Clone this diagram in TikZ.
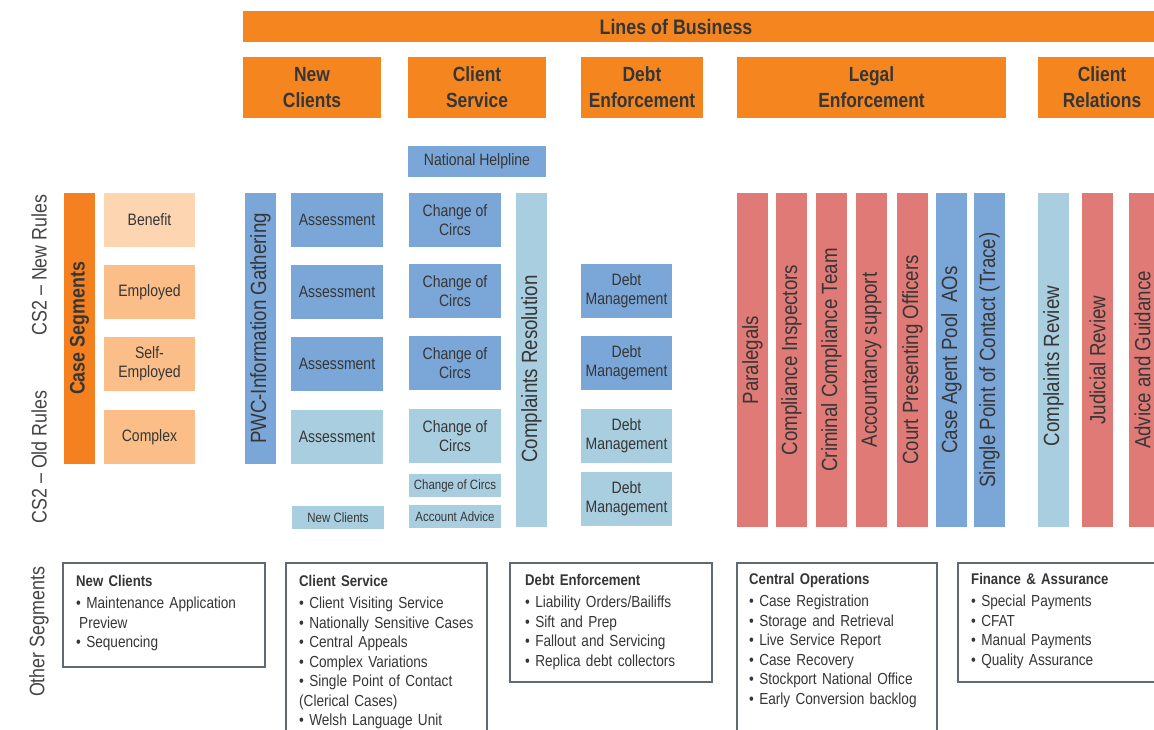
\documentclass[tikz,border=0pt]{standalone}
\usepackage{fontspec}
\setmainfont{Liberation Sans}[FakeStretch=0.85]
\definecolor{orng}{HTML}{F5861F}
\definecolor{csorng}{HTML}{F4801F}
\definecolor{peachA}{HTML}{FDD6B1}
\definecolor{peachB}{HTML}{FBBE88}
\definecolor{blu}{HTML}{7BA6D8}
\definecolor{lblu}{HTML}{A9CEDF}
\definecolor{redc}{HTML}{E07A76}
\definecolor{txt}{HTML}{363636}
\definecolor{sidec}{HTML}{444444}
\definecolor{bord}{HTML}{5F6B73}
\newcommand\fs[2]{\fontsize{#1}{#2}\selectfont}
% \R{style}{name}{x1}{y1}{x2}{y2}{text}
\newcommand\R[7]{\node[#1, minimum width={#5pt-#3pt}, minimum height={#6pt-#4pt}] (#2) at (#3,#4) {#7};}
\tikzset{
  base/.style={inner sep=0pt, outer sep=0pt, anchor=north west, align=center, text=txt},
  hdr/.style={base, fill=orng, font=\bfseries\fs{20.5}{26}},
  cell/.style={base, font=\fs{16.5}{19}},
  smallcell/.style={base, font=\fs{13.5}{16}},
  vbar/.style={base},
  vtxt/.style={rotate=90, inner sep=0pt, text=txt, font=\fs{22}{24}},
  sidelbl/.style={rotate=90, inner sep=0pt, text=sidec, font=\fs{21}{24}},
  obox/.style={base, draw=bord, line width=1.3pt},
  olist/.style={inner sep=0pt, anchor=north west, align=left, text=txt, text width=200pt, font=\fs{16}{19.5}},
}
\begin{document}
\begin{tikzpicture}[x=1pt,y=-1pt]
\path[use as bounding box] (0,0) rectangle (1154,729);
\clip (0,0) rectangle (1154,729);
\fill[white] (0,0) rectangle (1154,729);

% ---- Lines of business ----
\R{hdr}{lob}{243}{11}{1160}{42}{}
\node[inner sep=0pt, text=txt, font=\bfseries\fs{21}{24}] (lobt) at (676,27) {Lines of Business};
\R{hdr}{hnc}{243}{57}{381}{118}{New\\Clients}
\R{hdr}{hcs}{408}{57}{546}{118}{Client\\Service}
\R{hdr}{hde}{581}{57}{703}{118}{Debt\\Enforcement}
\R{hdr}{hle}{737}{57}{1006}{118}{Legal\\Enforcement}
\R{hdr}{hcr}{1038}{57}{1166}{118}{Client\\Relations}

% ---- Side labels ----
\node[sidelbl] (newrules) at (39,265) {CS2 – New Rules};
\node[sidelbl] (oldrules) at (39,457) {CS2 – Old Rules};
\node[sidelbl] (othseg) at (39,632) {Other Segments};

% ---- Case segments ----
\R{vbar,fill=csorng}{cseg}{64}{193}{95}{464}{}
\node[vtxt, font=\bfseries\fs{21}{24}] (csegt) at (cseg.center) {Case Segments};
\R{cell,fill=peachA}{ben}{104}{193}{195}{247}{Benefit}
\R{cell,fill=peachB}{emp}{104}{265}{195}{319}{Employed}
\R{cell,fill=peachB}{selfe}{104}{337}{195}{391}{Self-\\Employed}
\R{cell,fill=peachB}{cplx}{104}{410}{195}{464}{Complex}

% ---- New clients column ----
\R{vbar,fill=blu}{pwc}{245}{193}{276}{464}{}
\node[vtxt] (pwct) at (pwc.center) {PWC-Information Gathering};
\R{cell,fill=blu}{asa}{291}{193}{383}{247}{Assessment}
\R{cell,fill=blu}{asb}{291}{265}{383}{319}{Assessment}
\R{cell,fill=blu}{asc}{291}{337}{383}{391}{Assessment}
\R{cell,fill=lblu}{asd}{291}{410}{383}{464}{Assessment}
\R{smallcell,fill=lblu}{ncs}{292}{506}{384}{529}{New Clients}

% ---- Client service column ----
\R{cell,fill=blu}{nhl}{408}{146}{546}{177}{National Helpline}
\R{cell,fill=blu}{cca}{409}{193}{501}{247}{Change of\\Circs}
\R{cell,fill=blu}{ccb}{409}{264}{501}{318}{Change of\\Circs}
\R{cell,fill=blu}{ccc}{409}{336}{501}{390}{Change of\\Circs}
\R{cell,fill=lblu}{ccd}{409}{409}{501}{463}{Change of\\Circs}
\R{smallcell,fill=lblu}{cce}{409}{474}{501}{497}{Change of Circs}
\R{smallcell,fill=lblu}{acc}{409}{505}{501}{528}{Account Advice}
\R{vbar,fill=lblu}{crb}{516}{193}{547}{527}{}
\node[vtxt] (crbt) at ([yshift=-9pt]crb.center) {Complaints Resolution};

% ---- Debt enforcement column ----
\R{cell,fill=blu}{dma}{581}{264}{672}{318}{Debt\\Management}
\R{cell,fill=blu}{dmb}{581}{336}{672}{390}{Debt\\Management}
\R{cell,fill=lblu}{dmc}{581}{409}{672}{463}{Debt\\Management}
\R{cell,fill=lblu}{dmd}{581}{472}{672}{526}{Debt\\Management}

% ---- Legal enforcement bars ----
\R{vbar,fill=redc}{lea}{737}{193}{768}{527}{}
\node[vtxt] (leat) at (lea.center) {Paralegals};
\R{vbar,fill=redc}{leb}{776}{193}{807}{527}{}
\node[vtxt] (lebt) at (leb.center) {Compliance Inspectors};
\R{vbar,fill=redc}{lec}{816}{193}{847}{527}{}
\node[vtxt] (lect) at (lec.center) {Criminal Compliance Team};
\R{vbar,fill=redc}{led}{856}{193}{887}{527}{}
\node[vtxt] (ledt) at (led.center) {Accountancy support};
\R{vbar,fill=redc}{lee}{897}{193}{928}{527}{}
\node[vtxt] (leet) at (lee.center) {Court Presenting Officers};
\R{vbar,fill=blu}{lef}{936}{193}{967}{527}{}
\node[vtxt] (left) at (lef.center) {Case Agent Pool~~AOs};
\R{vbar,fill=blu}{leg}{974}{193}{1005}{527}{}
\node[vtxt] (legt) at (leg.center) {Single Point of Contact (Trace)};

% ---- Client relations bars ----
\R{vbar,fill=lblu}{cra}{1038}{193}{1069}{527}{}
\node[vtxt] (crat) at ([yshift=-6pt]cra.center) {Complaints Review};
\R{vbar,fill=redc}{crc}{1082}{193}{1113}{527}{}
\node[vtxt] (crct) at (crc.center) {Judicial Review};
\R{vbar,fill=redc}{crd}{1129}{193}{1156}{527}{}
\node[vtxt] (crdt) at (crd.center) {Advice and Guidance};

% ---- Other segments boxes ----
\R{obox}{oba}{63}{563}{265}{667}{}
\node[olist] (obat) at (76,575) {\textbf{\fs{15.5}{19.5}New Clients}\\[3pt]
\textbullet\ Maintenance Application\\
\hspace*{3pt}Preview\\
\textbullet\ Sequencing};

\R{obox}{obb}{286}{563}{487}{740}{}
\node[olist] (obbt) at (299,575) {\textbf{\fs{15.5}{19.5}Client Service}\\[3pt]
\textbullet\ Client Visiting Service\\
\textbullet\ Nationally Sensitive Cases\\
\textbullet\ Central Appeals\\
\textbullet\ Complex Variations\\
\textbullet\ Single Point of Contact\\
(Clerical Cases)\\
\textbullet\ Welsh Language Unit};

\R{obox}{obc}{510}{563}{712}{682}{}
\node[olist] (obct) at (525,574) {\textbf{\fs{15.5}{19.5}Debt Enforcement}\\[3pt]
\textbullet\ Liability Orders/Bailiffs\\
\textbullet\ Sift and Prep\\
\textbullet\ Fallout and Servicing\\
\textbullet\ Replica debt collectors};

\R{obox}{obd}{737}{563}{937}{740}{}
\node[olist] (obdt) at (749,573) {\textbf{\fs{15.5}{19.5}Central Operations}\\[3pt]
\textbullet\ Case Registration\\
\textbullet\ Storage and Retrieval\\
\textbullet\ Live Service Report\\
\textbullet\ Case Recovery\\
\textbullet\ Stockport National Office\\
\textbullet\ Early Conversion backlog};

\R{obox}{obe}{958}{563}{1170}{682}{}
\node[olist] (obet) at (971,573) {\textbf{\fs{15.5}{19.5}Finance \& Assurance}\\[3pt]
\textbullet\ Special Payments\\
\textbullet\ CFAT\\
\textbullet\ Manual Payments\\
\textbullet\ Quality Assurance};
\end{tikzpicture}
\end{document}
